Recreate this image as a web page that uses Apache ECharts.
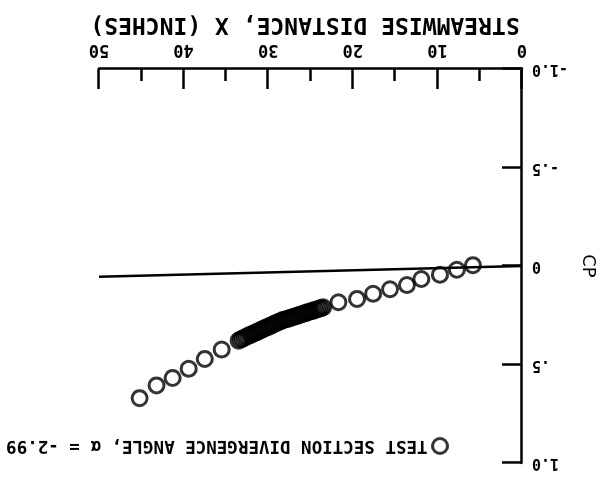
<!DOCTYPE html>
<html>
<head>
<meta charset="utf-8">
<script src="https://cdn.jsdelivr.net/npm/echarts@6/dist/echarts.min.js"></script>
<style>
html,body{margin:0;padding:0;background:#fff;}
#c{width:609px;height:490px;transform:rotate(180deg);transform-origin:50% 50%;}
</style>
</head>
<body>
<div id="c"></div>
<script>
// Tick labels
const xTickLabels = ['0', '10', '20', '30', '40', '50'];
const yTickValues = [-1, -0.5, 0, 0.5, 1];
const yTickLabels = ['-1.0', '-.5', '0', '.5', '1.0'];

const stationX = [5.8, 7.7, 9.7, 11.9, 13.6, 15.6, 17.6, 19.5, 21.7,
  23.5, 23.75, 24.0, 24.25, 24.5, 24.75, 25.0, 25.25, 25.5, 25.75,
  26.0, 26.25, 26.5, 26.75, 27.0, 27.25, 27.5, 27.75, 28.0, 28.25,
  28.5, 28.75, 29.0, 29.25, 29.5, 29.75, 30.0, 30.25, 30.5, 30.75,
  31.0, 31.25, 31.5, 31.75, 32.0, 32.25, 32.5, 32.75, 33.0, 33.25, 33.5,
  35.5, 37.5, 39.4, 41.3, 43.2, 45.2];
const cpValues = [-0.004, 0.019, 0.045, 0.066, 0.097, 0.118, 0.141, 0.167, 0.184,
  0.210, 0.214, 0.216, 0.221, 0.223, 0.228, 0.230, 0.233, 0.238, 0.240,
  0.245, 0.247, 0.252, 0.254, 0.259, 0.261, 0.266, 0.268, 0.272, 0.274,
  0.280, 0.283, 0.289, 0.292, 0.299, 0.303, 0.310, 0.312, 0.319, 0.322,
  0.329, 0.332, 0.339, 0.342, 0.349, 0.351, 0.358, 0.362, 0.369, 0.372, 0.379,
  0.424, 0.472, 0.522, 0.568, 0.606, 0.671];

// Reference line
const refLineX = [0, 50];
const refLineCP = [0, 0.054];

const seriesName = 'TEST SECTION DIVERGENCE ANGLE, \u03b1 = -2.99';
const FONT = 'DejaVu Sans Mono';

const chart = echarts.init(document.getElementById('c'), null, {renderer: 'canvas'});
chart.setOption({
  backgroundColor: '#fff',
  animation: false,
  grid: {left: 87, right: 99, top: 27, bottom: 69, containLabel: false},
  legend: {
    left: 160, top: 35, padding: 0,
    itemWidth: 15, itemHeight: 15,
    icon: 'circle',
    data: [seriesName],
    itemStyle: {color: 'rgba(0,0,0,0)', borderColor: '#000', borderWidth: 3},
    textStyle: {fontFamily: FONT, fontWeight: 'bold', fontSize: 17.5, color: '#000'}
  },
  xAxis: {
    type: 'value', min: 0, max: 50, interval: 10,
    name: 'STREAMWISE DISTANCE, X (INCHES)',
    nameLocation: 'middle', nameGap: 34,
    nameTextStyle: {fontFamily: FONT, fontWeight: 'bold', fontSize: 23, color: '#000', padding: [0, 0, 0, 11]},
    axisLine: {show: true, onZero: false, lineStyle: {color: '#000', width: 2.5}},
    axisTick: {show: true, inside: true, length: 20, lineStyle: {color: '#000', width: 2.5}},
    minorTick: {show: true, splitNumber: 2, length: 12, lineStyle: {color: '#000', width: 2.5}},
    splitLine: {show: false},
    axisLabel: {
      margin: 11, color: '#000', fontFamily: FONT, fontWeight: 'bold', fontSize: 17,
      formatter: v => xTickLabels[Math.round(v / 10)]
    }
  },
  yAxis: {
    type: 'value', min: -1, max: 1, interval: 0.5,
    name: 'CP', nameLocation: 'middle', nameGap: 38, nameRotate: 90,
    nameTextStyle: {fontFamily: 'DejaVu Sans', fontSize: 18, color: '#000'},
    axisLine: {show: true, onZero: false, lineStyle: {color: '#000', width: 2.5}},
    axisTick: {show: true, inside: true, length: 20, lineStyle: {color: '#000', width: 2.5}},
    splitLine: {show: false},
    axisLabel: {
      margin: 10, color: '#000', fontFamily: FONT, fontWeight: 'bold', fontSize: 15,
      formatter: v => {
        const i = yTickValues.findIndex(t => Math.abs(t - v) < 1e-9);
        return i >= 0 ? yTickLabels[i] : '';
      }
    }
  },
  series: [
    {
      type: 'line', name: 'ref', silent: true,
      data: refLineX.map((x, i) => [x, refLineCP[i]]),
      symbol: 'none',
      lineStyle: {color: '#000', width: 2.5}
    },
    {
      type: 'scatter', name: seriesName,
      data: stationX.map((x, i) => [x, cpValues[i]]),
      symbol: 'circle', symbolSize: 15,
      itemStyle: {color: 'rgba(0,0,0,0)', borderColor: '#000', borderWidth: 3}
    }
  ]
});
</script>
</body>
</html>
